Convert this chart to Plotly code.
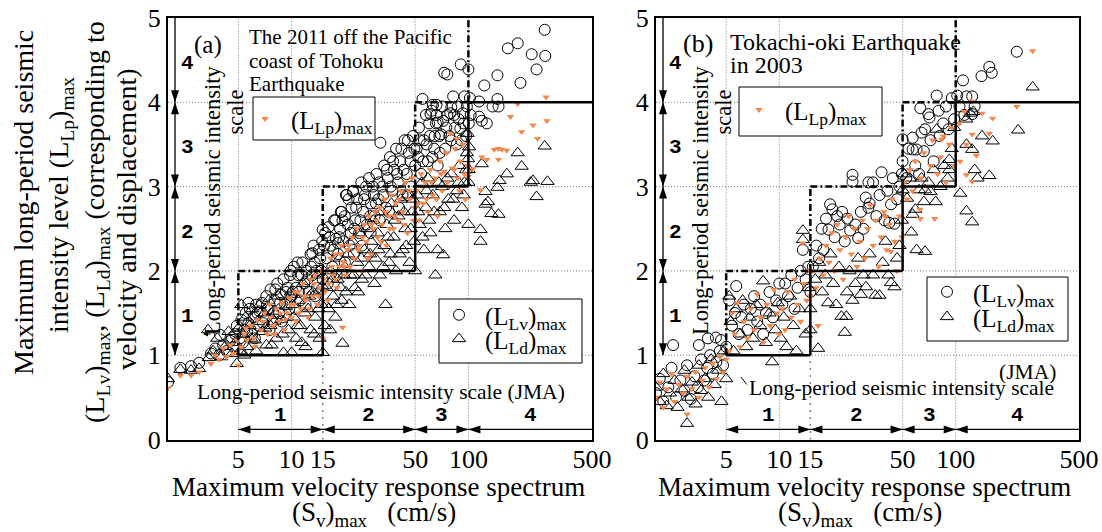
import math
import plotly.graph_objects as go

# ---------------- data (Sv [cm/s], level) ----------------
A_LV = [(2.0,0.68),(2.35,0.85),(2.7,0.87),(3.0,0.91),
 (3.5,1.02),(3.7,1.08),(3.9,1.0),(3.94,1.24),(4.1,1.12),(4.3,1.05),(4.5,1.17),(4.6,1.21),(4.7,1.1),(4.8,1.25),(4.9,1.35),
 (5.1,1.2),(5.2,1.42),(5.3,1.15),(5.4,1.3),(5.5,1.5),(5.6,1.28),(5.7,1.38),(5.7,1.62),(5.8,1.55),(6.0,1.25),(6.1,1.45),(6.2,1.2),(6.3,1.6),(6.4,1.5),(6.5,1.35),(6.6,1.52),(6.8,1.62),(6.9,1.38),(7.0,1.45),
 (7.2,1.7),(7.3,1.55),(7.4,1.55),(7.5,1.3),(7.6,1.78),(7.8,1.4),(7.9,1.5),(8.0,1.65),(8.1,1.78),(8.3,1.85),(8.5,1.5),(8.6,1.62),(8.7,1.72),(8.8,1.4),(9.0,1.9),(9.2,1.6),(9.3,1.75),(9.5,1.8),(9.7,1.55),(9.8,1.95),(9.9,2.0),(10.0,1.7),
 (10.2,1.75),(10.3,2.05),(10.5,1.55),(10.6,1.8),(10.8,2.1),(10.9,1.95),(11.0,1.75),(11.2,1.65),(11.4,1.95),(11.5,2.1),(11.8,1.85),(12.0,1.6),(12.1,2.0),(12.3,1.9),(12.5,1.75),(12.8,2.2),(12.9,2.05),(13.1,2.21),(13.1,1.95),(13.3,2.3),(13.5,2.1),(13.6,1.7),(13.8,2.0),(13.9,1.8),(14.3,2.25),(14.5,2.15),(14.7,2.0),(14.9,2.35),(15.0,1.9),
 (15.0,2.49),(15.3,2.3),(15.5,2.45),(15.8,2.15),(16.0,1.85),(16.2,2.52),(16.4,2.4),(16.6,2.3),(17.0,2.05),(17.2,2.25),(17.4,2.6),(17.7,2.6),(17.8,2.38),(18.0,1.95),(18.3,2.2),(18.3,2.33),(18.6,2.4),(18.8,2.5),(19.0,2.7),(19.2,2.7),(19.4,2.6),(19.6,2.35),
 (20.0,2.1),(20.0,2.65),(20.3,2.9),(20.5,2.9),(20.8,2.55),(21.0,2.85),(21.3,2.3),(21.6,2.45),(21.8,2.75),(22.2,2.94),(22.3,2.95),(22.5,2.2),(22.6,2.5),(22.9,2.6),(23.2,2.75),(23.5,2.85),(24.1,2.45),(24.5,2.6),(24.8,3.05),(25.0,2.3),(25.4,2.7),(25.7,2.85),(26.0,2.9),(26.4,3.0),(26.7,2.55),(27.4,3.1),(27.8,2.65),(28.0,2.45),(28.1,2.8),(28.8,3.0),(29.2,2.9),(29.5,2.65),(30.0,2.8),
 (30.2,3.15),(31.0,2.85),(31.3,3.05),(31.5,2.6),(31.8,3.52),(32.6,3.0),(33.0,2.9),(33.4,3.25),(34.2,2.75),(34.6,3.2),(35.0,3.1),(35.5,2.7),(36.0,3.35),(36.4,3.0),(37.0,2.95),(37.5,3.3),(38.0,3.2),(39.0,3.45),(39.5,3.15),(40.0,3.05),(40.5,2.75),(41.2,3.3),(41.8,3.45),(42.4,2.9),(43.0,3.2),(43.6,3.55),(44.8,3.15),(45.5,2.9),(45.5,3.55),(46.0,3.4),(47.0,3.3),(47.3,3.0),(48.6,3.6),(49.5,3.45),(50.0,3.25),
 (51,3.45),(52,3.35),(52.5,3.7),(53,3.55),(54,3.15),(55,4.04),(55.5,3.3),(56,3.55),(57.5,3.85),(58,3.5),(59,3.3),(60,3.75),(60.5,3.6),(61,3.86),(62,3.9),(62.5,3.35),(63,3.97),(64,3.45),(64.5,3.6),(65.5,3.75),(66,3.97),(66,3.85),(67,3.25),(67,3.76),(68.5,3.6),(69,3.4),(70,3.62),(71,3.95),(72,3.78),(73,4.35),(76,4.33),
 (74,3.45),(75,3.7),(76,3.85),(78,3.6),(79,3.87),(80,3.94),(80,3.55),(82,4.07),(83,3.85),(84,3.7),(86,3.5),(87,3.95),(88,3.8),(90,3.69),(90.5,4.45),(91,3.55),(93,3.87),(94,3.75),(95,4.07),(97,3.6),(98,3.95),(100,4.39),(100.5,3.75),(102,4.05),(103,3.85),
 (115,4.01),(115,3.83),(119,3.78),(123,4.2),(127,3.75),(137,3.95),(146,4.32),(146,4.04),(148,3.95),(167,4.64),(190,4.7),(197,4.23),(228,4.57),(243,4.39),(270,4.86),(272,4.55)]

A_LD = [(2.0,0.72),(2.35,0.83),(2.7,0.82),(3.0,0.84),
 (3.37,1.3),(3.4,0.97),(3.6,1.05),(3.8,1.2),(4.0,0.98),(4.2,1.1),(4.4,1.28),(4.6,1.02),(4.8,1.15),(4.9,0.9),(5.0,1.32),
 (5.1,1.05),(5.2,1.6),(5.3,1.25),(5.4,1.0),(5.5,1.45),(5.6,1.1),(5.8,1.35),(5.9,1.2),(6.0,1.55),(6.2,1.18),(6.3,1.05),(6.4,1.4),(6.6,1.6),(6.8,1.28),(7.0,1.5),(7.1,1.32),
 (7.2,1.12),(7.4,1.65),(7.6,1.35),(7.7,1.12),(7.9,1.52),(8.0,1.4),(8.2,1.2),(8.4,1.7),(8.7,1.42),(8.9,1.25),(9.0,1.03),(9.3,1.58),(9.4,1.45),(9.6,1.3),(9.9,1.75),(10.0,1.03),
 (10.1,1.6),(10.3,1.45),(10.6,1.2),(10.8,1.35),(10.9,1.65),(11.2,1.35),(11.4,1.15),(11.6,1.85),(11.9,1.5),(12.0,1.1),(12.4,1.55),(12.6,1.7),(12.8,1.3),(13.2,1.75),(13.4,1.25),(13.6,1.45),(14.0,1.95),(14.2,1.55),(14.4,1.2),(14.8,1.6),(14.9,1.82),(15.0,1.03),
 (15.4,1.35),(15.6,1.6),(15.8,1.8),(16.2,1.55),(16.5,1.3),(16.7,2.0),(17.0,1.9),(17.2,1.7),(17.7,1.45),(18.0,1.6),(18.2,1.9),(18.7,2.15),(19.0,1.8),(19.2,1.65),(19.4,1.14),(19.8,1.95),
 (20.0,2.05),(20.3,1.75),(20.9,2.2),(21.2,1.6),(21.5,1.95),(22.1,2.35),(22.4,1.95),(22.8,1.8),(23.5,2.1),(23.8,1.75),(24.2,2.45),(24.8,2.15),(25.0,1.9),(25.8,2.25),(26.2,1.95),(26.6,2.5),(27.4,2.05),(27.8,2.2),(28.2,2.35),(29.0,2.6),(29.4,1.85),(29.8,2.15),
 (30.7,2.45),(31.0,2.25),(31.6,1.95),(32.5,2.7),(33.0,2.05),(33.5,2.3),(34.0,1.6),(34.5,2.55),(35.0,2.4),(35.6,2.1),(36.2,2.2),(36.7,2.8),(37.8,2.4),(38.3,2.6),(39.0,2.0),(40.2,2.65),(40.8,2.2),(41.4,2.85),(42.6,2.25),(43.2,2.7),(43.9,2.5),(44.5,2.3),(45.2,2.9),(46.5,2.1),(47.2,2.5),(47.9,2.7),(48.6,2.85),(49.3,2.35),(50.0,2.0),
 (51.5,2.9),(52,2.7),(53,2.55),(54.5,3.05),(55,2.4),(56,2.25),(57.5,2.75),(58,2.95),(59,3.1),(60,2.6),(61,2.45),(63,2.9),(64,2.7),(65,1.95),(67,2.25),(68,3.05),(69,2.7),(71,3.0),(72,2.19),(73,2.75),(74,2.5),(76,3.1),(77,2.85),(80,3.15),(82,2.85),(83,2.6),(86,2.95),(88,3.05),(89,3.25),(92,2.75),(94,2.9),(95,3.05),(97,3.2),(98,3.4),(99,3.63),(99.5,3.33),(100,2.55),(100,3.05),(100.5,3.2),(101,3.47),
 (117,2.49),(117,2.35),(119,3.27),(125,2.94),(125,2.79),(129,2.82),(135,2.68),(146,2.99),(148,2.67),(150,3.07),(165,3.15),(190,3.4),(200,3.24),(225,3.05),(232,3.07),(243,2.88),(270,3.48),(280,3.06)]

A_LP = [(2.0,0.61),(2.35,0.76),(2.7,0.76),(3.0,0.8),
 (3.5,0.9),(3.7,1.0),(3.9,0.95),(4.1,1.08),(4.3,0.98),(4.5,1.12),(4.7,1.02),(4.9,1.18),(5.0,0.88),
 (5.2,1.1),(5.4,1.25),(5.5,1.32),(5.6,1.18),(5.9,1.35),(6.1,1.2),(6.2,1.1),(6.4,1.42),(6.7,1.3),(6.9,1.4),(7.0,1.5),(7.3,1.25),(7.5,1.6),(7.6,1.45),(7.9,1.35),(8.0,1.25),(8.2,1.55),(8.5,1.4),(8.6,1.5),(8.8,1.62),(9.1,1.3),(9.2,1.42),(9.4,1.5),(9.7,1.68),(9.9,1.6),(10.0,1.45),
 (10.3,1.6),(10.5,1.75),(10.6,1.4),(10.9,1.75),(11.0,1.5),(11.3,1.55),(11.6,1.85),(11.8,1.7),(12.0,1.65),(12.4,1.45),(12.6,1.55),(12.8,1.9),(13.2,1.7),(13.4,1.85),(13.6,1.95),(14.0,1.6),(14.2,1.7),(14.4,1.8),(14.8,2.0),(15.0,1.2),
 (15.2,1.9),(15.4,1.75),(15.8,2.0),(16.0,1.65),(16.2,1.85),(16.6,2.15),(16.9,2.05),(17.1,1.95),(17.6,2.2),(17.8,1.9),(18.1,1.8),(18.6,2.05),(18.9,2.2),(19.1,2.3),(19.4,1.33),(19.7,2.1),(19.9,2.05),
 (20.2,1.95),(20.8,2.25),(21.0,2.3),(21.4,2.05),(22.0,2.4),(22.4,2.0),(22.7,2.15),(23.4,2.5),(23.7,2.25),(24.1,2.3),(24.9,2.0),(25.2,2.4),(25.7,2.55),(26.5,2.35),(26.9,2.15),(27.3,2.65),(28.1,2.2),(28.4,2.55),(28.9,2.5),(29.7,2.7),
 (30.2,2.6),(30.6,2.4),(31.5,2.75),(32.0,2.35),(32.5,2.55),(33.5,2.85),(34.0,2.7),(34.5,2.3),(35.5,2.65),(36.0,2.5),(36.6,2.9),(37.7,2.5),(38.2,2.65),(38.9,2.8),(40.1,2.6),(40.6,2.85),(41.3,2.95),(42.6,2.7),(43.2,2.55),(43.9,3.05),(45.2,2.45),(46.0,2.95),(46.6,2.85),(48.0,3.1),(48.7,2.6),(49.5,2.75),
 (51,2.95),(52,2.8),(52.5,2.6),(54,3.15),(55,3.0),(55.5,2.8),(57,3.05),(58,2.85),(59,2.7),(61,3.2),(62,3.05),(63,2.9),(65,3.1),(66,2.85),(67,2.65),(69,3.3),(70,3.15),(71,2.95),(73,3.18),(75,3.4),(76,3.05),(78,3.0),(79,3.63),(81,3.22),(83,3.2),(84,3.45),(86,3.57),(87,3.1),(89,2.95),(90,3.3),(93,3.5),(95,3.15),(96,2.85),(99,3.25),(100,3.12),
 (106,3.21),(117,2.96),(119,3.35),(127,3.32),(140,3.44),(148,3.32),(148,3.45),(155,3.44),(165,3.43),(173,3.83),(190,3.98),(200,3.65),(232,3.73),(246,3.57),(275,4.06),(278,3.78)]

B_LV = [(2.0,0.55),(2.1,0.72),(2.2,0.45),(2.35,0.62),(2.45,0.85),(2.5,1.12),(2.6,0.5),(2.75,0.7),(2.9,0.58),(3.0,0.88),(3.15,0.48),(3.3,0.75),(3.45,0.62),(3.5,1.12),(3.6,0.95),(3.75,0.7),(3.9,0.85),(3.94,1.2),(4.05,1.0),(4.2,0.78),(4.37,1.21),(4.4,0.92),(4.6,1.05),(4.67,1.18),(4.8,0.88),(5.0,1.1),
 (5.2,1.65),(5.4,1.35),(5.6,1.5),(5.7,1.82),(5.9,1.25),(6.1,1.45),(6.3,1.6),(6.6,1.3),(6.9,1.55),(7.2,1.7),(7.5,1.4),(7.8,1.6),(8.1,1.25),(8.4,1.5),(8.8,1.75),(9.2,1.45),(9.6,1.65),(10.0,1.85),
 (10.4,1.6),(10.8,1.85),(11.2,1.7),(11.7,1.95),(12.2,1.55),(12.7,1.8),(13.2,2.0),(13.6,2.25),(14.1,1.9),(14.6,2.05),(15.0,1.75),
 (15.5,2.05),(16.2,2.3),(16.8,2.15),(17.4,2.5),(17.8,2.25),(18.4,2.62),(19.0,2.49),(19.4,2.79),(20.0,2.73),(20.6,2.4),(21.3,2.65),(22.0,2.55),(22.7,2.7),(23.5,2.35),(24.3,2.62),(25.2,2.48),(26.0,3.14),(26.0,3.06),(27.0,2.55),(28.0,2.39),(29.0,2.7),(30.0,2.5),
 (30.9,2.87),(32,2.75),(32,3.05),(32.5,2.8),(34,3.05),(35.5,2.65),(37,2.9),(38,3.17),(39.5,2.6),(41,2.95),(42,2.57),(43,2.79),(44,3.1),(45,2.56),(46.5,2.85),(48,3.0),(49.5,3.15),
 (50,3.56),(50,3.3),(52.5,3.1),(54,3.45),(57,3.58),(57,3.44),(59,3.25),(60,3.44),(62,3.15),(63,3.93),(64,3.64),(66,3.42),(67,3.68),(70,3.86),(71,3.82),(72,3.55),(75,3.3),(78,4.08),(80,3.9),(81,3.6),(85,3.75),(88,3.95),(91,3.68),(95,4.05),(98,3.8),
 (102,4.08),(105,3.95),(110,4.26),(112,3.85),(115,4.07),(124,4.07),(124,3.86),(128,3.95),(140,4.31),(155,4.42),(160,4.35),(222,4.6)]

B_LD = [(2.0,0.62),(2.1,0.45),(2.2,0.78),(2.3,0.4),(2.4,0.55),(2.55,0.7),(2.65,0.38),(2.8,0.6),(2.9,0.82),(3.0,0.19),(3.05,0.5),(3.2,0.68),(3.35,0.42),(3.5,0.88),(3.6,0.58),(3.8,0.72),(3.95,0.5),(4.1,0.95),(4.3,0.65),(4.5,0.82),(4.7,0.45),(4.85,1.05),(5.0,0.72),
 (5.2,1.7),(5.3,1.4),(5.5,1.05),(5.7,1.55),(6.0,1.25),(6.2,1.65),(6.5,1.1),(6.8,1.45),(7.1,1.2),(7.4,1.6),(7.8,1.35),(8.1,1.88),(8.4,1.15),(8.8,1.5),(9.1,0.92),(9.5,1.3),(9.8,1.62),
 (10.2,1.2),(10.6,1.45),(11.0,1.1),(11.5,1.7),(12.0,1.35),(12.5,1.05),(13.0,1.55),(13.6,2.48),(13.6,2.37),(14.1,1.25),(14.6,1.8),(15.0,1.3),(15.0,1.55),
 (16.0,1.9),(16.6,1.08),(16.8,2.1),(17.5,1.75),(18.2,1.95),(18.9,1.62),(19.5,2.2),(20.2,1.85),(21.0,1.6),(21.8,2.05),(22.5,1.46),(23.5,1.27),(24.0,1.46),(24.2,1.75),(25.0,2.0),(26.0,1.65),(27.0,1.85),(28.0,2.15),(29.0,1.72),(30.0,1.95),
 (31,1.81),(32.5,2.2),(34,1.95),(35,1.71),(37,1.71),(38.5,2.1),(40,2.35),(41.5,1.95),(43,1.86),(45,1.81),(46.5,2.15),(48,2.3),(49.5,2.6),
 (50,2.96),(51,3.15),(53,2.86),(55,3.1),(56,2.46),(57,2.67),(59,2.73),(60,2.25),(62,2.96),(64,3.1),(66,2.82),(67,2.23),(67,2.96),(70,3.05),(72,2.94),(75,3.2),(77,2.82),(78,3.68),(82,3.0),(86,3.25),(90,3.1),(92,3.32),(92,3.2),(95,3.45),(98,3.7),
 (106,2.92),(115,2.71),(115,3.5),(115,3.8),(121,3.87),(124,2.58),(124,3.44),(126,3.89),(128,3.2),(133,3.1),(141,3.6),(155,3.13),(162,3.54),(226,3.67),(273,4.18)]

B_LP = [(2.0,0.5),(2.1,0.68),(2.2,0.38),(2.3,0.6),(2.45,0.78),(2.55,0.45),(2.7,0.65),(2.85,0.55),(3.0,0.3),(3.0,0.75),(3.2,0.6),(3.35,0.8),(3.5,0.5),(3.65,0.7),(3.8,0.85),(4.0,0.62),(4.2,0.9),(4.4,0.72),(4.6,0.98),(4.8,0.8),(5.0,0.95),
 (5.2,1.05),(5.4,1.5),(5.6,1.25),(5.8,1.62),(6.0,1.1),(6.3,1.4),(6.6,1.2),(6.9,1.55),(7.2,1.3),(7.5,1.72),(7.8,1.45),(8.1,1.15),(8.5,1.6),(8.9,1.35),(9.3,1.78),(9.7,1.5),(10.0,1.25),
 (10.4,1.55),(10.8,1.3),(11.2,1.75),(11.7,1.45),(12.2,1.9),(12.7,1.6),(13.2,1.4),(13.6,2.33),(13.8,1.85),(14.3,1.65),(14.8,2.0),(15.0,1.7),
 (15.5,2.0),(16.2,1.8),(16.6,1.35),(17.0,2.15),(17.7,1.95),(18.4,2.3),(19.1,2.1),(19.8,2.45),(20.5,2.0),(21.3,2.55),(22.1,2.25),(23.0,1.9),(23.8,2.4),(24.7,2.65),(25.6,2.2),(26.6,2.5),(27.6,2.05),(28.6,2.35),(29.6,2.6),
 (30.6,2.15),(31.7,2.5),(32.8,2.78),(34,2.3),(35.2,2.6),(36.5,2.05),(37.8,2.4),(39.2,2.7),(40,2.64),(40.6,2.25),(42,2.55),(43,2.23),(43.5,2.85),(45,2.35),(46.5,2.0),(48,2.65),(49.5,2.4),
 (51,3.05),(53,2.85),(55,3.2),(57,2.95),(59,3.3),(62.7,2.73),(63,2.62),(63,3.1),(66,3.4),(69,3.0),(72,3.25),(74,3.55),(76,2.62),(79,3.15),(82,3.35),(83,3.56),(85,3.6),(88,3.05),(92,3.5),(95,3.7),(98,3.25),
 (105,3.75),(106,3.3),(112,3.89),(115,3.14),(115,3.5),(124,3.06),(124,3.62),(124,4.01),(131,3.37),(141,3.87),(155,3.63),(162,3.81),(222,3.95),(273,4.61)]

X_TICKS = [5, 10, 15, 50, 100, 500]
Y_TICKS = [0, 1, 2, 3, 4, 5]
X_GRID = [5, 10, 50, 100]
Y_GRID = [1, 2, 3, 4]
JMA_SV = [5, 15, 50, 100, 500]      # class boundaries of (Sv)max
JMA_L = [1, 2, 3, 4, 5]             # class boundaries of level
JMA_CLASS = ["1", "2", "3", "4"]
X_RANGE = [2, 500]
Y_RANGE = [0, 5]

# ---------------- style ----------------
SERIF = "Liberation Serif"
ORANGE = "#F4874B"
W, H = 1102, 532
PANELS = [  # pixel frame: left, right, top(y=5), bottom(y=0)
    dict(left=168, right=592, top=18, bottom=439.5, xa="x", ya="y"),
    dict(left=656, right=1079, top=18, bottom=439.5, xa="x2", ya="y2"),
]
LEG_ITEMW = 42
# legend boxes (pixel): box rect, symbol x, item centres
LEG_BOXES = [
    dict(rect=(253, 97, 375, 140), sym_x=265, items=[("legend", 119)]),
    dict(rect=(439, 299, 582, 363), sym_x=459, items=[("legend2", 315), ("legend3", 339)]),
    dict(rect=(739, 87, 882, 136), sym_x=759, items=[("legend4", 110)]),
    dict(rect=(927, 277, 1068, 341), sym_x=947, items=[("legend5", 292), ("legend6", 317)]),
]

def xy(pairs):
    return [p[0] for p in pairs], [p[1] for p in pairs]

fig = go.Figure()

series = [
    (A_LV, B_LV, "(L<sub>Lv</sub>)<sub>max</sub>", dict(symbol="circle-open", size=11, color="black", line=dict(width=1)), ("legend2", "legend5")),
    (A_LD, B_LD, "(L<sub>Ld</sub>)<sub>max</sub>", dict(symbol="triangle-up-open", size=11.5, color="black", line=dict(width=1)), ("legend3", "legend6")),
    (A_LP, B_LP, "(L<sub>Lp</sub>)<sub>max</sub>", dict(symbol="triangle-down", size=6.5, color=ORANGE, line=dict(width=0)), ("legend", "legend4")),
]
for pi, p in enumerate(PANELS):
    for s in series:
        xs, ys = xy(s[pi])
        fig.add_trace(go.Scatter(x=xs, y=ys, mode="markers", name=s[2], marker=s[3],
                                 xaxis=p["xa"], yaxis=p["ya"], legend=s[4][pi],
                                 showlegend=True, cliponaxis=True))

def arrow_head(xref, yref, x, y, d, L=12, Wd=4):
    paths = {
        "down": f"M0,0 L{-Wd},{L} L{Wd},{L} Z",
        "up": f"M0,0 L{-Wd},{-L} L{Wd},{-L} Z",
        "left": f"M0,0 L{L},{Wd} L{L},{-Wd} Z",
        "right": f"M0,0 L{-L},{Wd} L{-L},{-Wd} Z",
    }
    fig.add_shape(type="path", xref=xref, yref=yref, xsizemode="pixel", ysizemode="pixel",
                  xanchor=x, yanchor=y, path=paths[d], fillcolor="black", line=dict(width=0), layer="above")

GRID_LINE = dict(color="#777777", width=1, dash="1px,2px")
DASHDOT = "7px,3px,2px,3px"
DIGIT_FONT = dict(family="Liberation Mono", size=21, color="black")

for pi, p in enumerate(PANELS):
    xr, yr = p["xa"], p["ya"]
    xd = xr + " domain"
    pw = p["right"] - p["left"]
    for v in X_GRID:
        fig.add_shape(type="line", xref=xr, yref=yr, x0=v, x1=v, y0=Y_RANGE[0], y1=Y_RANGE[1],
                      line=GRID_LINE, layer="below")
    for v in Y_GRID:
        fig.add_shape(type="line", xref=xr, yref=yr, x0=X_RANGE[0], x1=X_RANGE[1], y0=v, y1=v,
                      line=GRID_LINE, layer="below")
    fig.add_shape(type="line", xref=xr, yref=yr, x0=JMA_SV[1], x1=JMA_SV[1], y0=0, y1=JMA_L[0],
                  line=dict(color="black", width=1.5, dash="1px,6px"), layer="below")
    for i in range(4):
        a, b = JMA_SV[i], JMA_SV[i + 1]
        lo, hi = JMA_L[i], JMA_L[i + 1]
        fig.add_shape(type="line", xref=xr, yref=yr, x0=a, x1=b, y0=lo, y1=lo,
                      line=dict(color="black", width=2.5))
        if i < 3:
            fig.add_shape(type="line", xref=xr, yref=yr, x0=b, x1=b, y0=lo, y1=hi,
                          line=dict(color="black", width=2.5))
            fig.add_shape(type="line", xref=xr, yref=yr, x0=a, x1=b, y0=hi, y1=hi,
                          line=dict(color="black", width=2.5, dash=DASHDOT))
        fig.add_shape(type="line", xref=xr, yref=yr, x0=a, x1=a, y0=lo, y1=hi,
                      line=dict(color="black", width=2.5, dash=DASHDOT))
    # left vertical arrows
    ax_x = 7 / pw
    fig.add_shape(type="line", xref=xd, yref=yr, x0=ax_x, x1=ax_x, y0=JMA_L[0], y1=Y_RANGE[1],
                  line=dict(color="black", width=1.3))
    for i in range(4):
        arrow_head(xd, yr, ax_x, JMA_L[i], "down")
        if i < 3:
            arrow_head(xd, yr, ax_x, JMA_L[i + 1], "up")
        fig.add_annotation(xref=xd, yref=yr, x=19 / pw, y=JMA_L[i] + 0.46, text="<b>" + JMA_CLASS[i] + "</b>",
                           showarrow=False, font=DIGIT_FONT, xanchor="center", yanchor="middle")
    # bottom horizontal arrows
    ay = 0.12
    fig.add_shape(type="line", xref=xr, yref=yr, x0=JMA_SV[0], x1=JMA_SV[-1], y0=ay, y1=ay,
                  line=dict(color="black", width=1.3))
    for i in range(4):
        arrow_head(xr, yr, JMA_SV[i], ay, "left")
        if i < 3:
            arrow_head(xr, yr, JMA_SV[i + 1], ay, "right")
        xm = 0.5 * (math.log10(JMA_SV[i]) + math.log10(JMA_SV[i + 1]))
        fig.add_annotation(xref=xr, yref=yr, x=xm, y=0.29, text="<b>" + JMA_CLASS[i] + "</b>", showarrow=False,
                           font=DIGIT_FONT, xanchor="center", yanchor="middle")
    # vertical scale caption
    fig.add_annotation(xref=xd, yref=yr, x=45 / pw, y=2.83, text="Long-period seismic intensity",
                       textangle=-90, showarrow=False, xanchor="center", yanchor="middle",
                       font=dict(family=SERIF, size=22.5, color="black"))
    fig.add_annotation(xref=xd, yref=yr, x=67 / pw, y=3.88, text="scale",
                       textangle=-90, showarrow=False, xanchor="center", yanchor="middle",
                       font=dict(family=SERIF, size=22.5, color="black"))

A, B = PANELS
def ann(p, px, py, text, size, xanchor="center"):
    pw = p["right"] - p["left"]
    yv = (p["bottom"] - py) / ((p["bottom"] - p["top"]) / 5)
    fig.add_annotation(xref=p["xa"] + " domain", yref=p["ya"], x=(px - p["left"]) / pw, y=yv,
                       text=text, showarrow=False, xanchor=xanchor, yanchor="middle",
                       font=dict(family=SERIF, size=size, color="black"))

ann(A, 208, 45, "(a)", 25)
ann(A, 247, 37, "The 2011 off the Pacific", 21, "left")
ann(A, 247, 61, "coast of Tohoku", 21, "left")
ann(A, 247, 84, "Earthquake", 21, "left")
ann(A, 381, 392, "Long-period seismic intensity scale (JMA)", 21.5)
ann(B, 698, 43, "(b)", 26)
ann(B, 728, 42, "Tokachi-oki Earthquake", 24, "left")
ann(B, 728, 65, "in 2003", 24, "left")
ann(B, 901, 388, "Long-period seismic intensity scale", 21.5)
ann(B, 1058, 372, "(JMA)", 21.5, "right")

# small pointer arrows
fig.add_annotation(xref="x domain", yref="y", x=(203 - 168) / 424, y=(439.5 - 334) / 84.3, ax=9, ay=0,
                   text="", showarrow=True, arrowhead=2, arrowsize=1, arrowwidth=1, arrowcolor="black")
fig.add_annotation(xref="x2 domain", yref="y2", x=(741 - 656) / 423, y=(439.5 - 377) / 84.3, ax=7, ay=9,
                   text="", showarrow=True, arrowhead=0, arrowwidth=1, arrowcolor="black")

# axis titles
def pann(px, py, text, size, angle=0):
    fig.add_annotation(xref="paper", yref="paper", x=px / W, y=1 - py / H, text=text, showarrow=False,
                       textangle=angle, xanchor="center", yanchor="middle",
                       font=dict(family=SERIF, size=size, color="black"))

pann(24, 203, "Maximum long-period seismic", 28, -90)
pann(60, 205, "intensity level (L<sub>Lp</sub>)<sub>max</sub>", 28, -90)
pann(96, 222, "(L<sub>Lv</sub>)<sub>max</sub>, (L<sub>Ld</sub>)<sub>max</sub> (corresponding to", 28, -90)
pann(127, 219, "velocity and displacement)", 28, -90)
for cx in (378, 864):
    pann(cx, 487, "Maximum velocity response spectrum", 27)
    pann(cx - 4, 514, "(S<sub>v</sub>)<sub>max</sub>   (cm/s)", 27)

# legend boxes
legends = {}
for bx in LEG_BOXES:
    x0, y0, x1, y1 = bx["rect"]
    fig.add_shape(type="rect", xref="paper", yref="paper", x0=x0 / W, x1=x1 / W, y0=1 - y0 / H, y1=1 - y1 / H,
                  line=dict(color="black", width=1), fillcolor="white", layer="above")
    for lid, cy in bx["items"]:
        legends[lid] = dict(x=(bx["sym_x"] - 5 - LEG_ITEMW / 2) / W, y=1 - cy / H,
                            xanchor="left", yanchor="middle", itemwidth=LEG_ITEMW,
                            bgcolor="rgba(0,0,0,0)", borderwidth=0,
                            font=dict(family=SERIF, size=25, color="black"))

axis_common = dict(showgrid=False, zeroline=False, showline=True, mirror=True, linecolor="black",
                   linewidth=2, ticks="", automargin=False, tickfont=dict(family=SERIF, size=26, color="black"))
layout_axes = {}
for i, p in enumerate(PANELS):
    sfx = "" if i == 0 else "2"
    layout_axes["xaxis" + sfx] = dict(axis_common, type="log",
                                      range=[math.log10(X_RANGE[0]), math.log10(X_RANGE[1])],
                                      domain=[p["left"] / W, p["right"] / W],
                                      tickvals=X_TICKS, ticktext=[str(v) for v in X_TICKS],
                                      ticklabelstandoff=-5, anchor="y" + sfx)
    layout_axes["yaxis" + sfx] = dict(axis_common, range=Y_RANGE,
                                      domain=[1 - p["bottom"] / H, 1 - p["top"] / H],
                                      tickvals=Y_TICKS, anchor="x" + sfx)

fig.update_layout(
    width=W, height=H, margin=dict(l=0, r=0, t=0, b=0, autoexpand=False),
    paper_bgcolor="white", plot_bgcolor="white", showlegend=True,
    **legends, **layout_axes,
)

fig.write_html("out.html")
